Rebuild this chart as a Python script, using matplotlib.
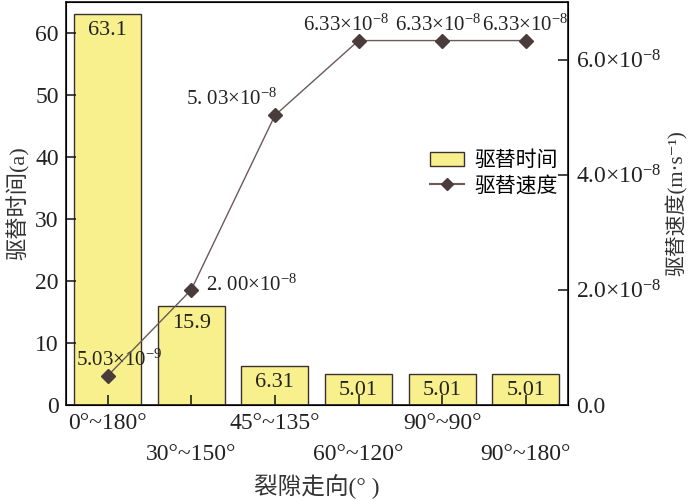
import matplotlib
matplotlib.use("Agg")
import matplotlib.pyplot as plt
from matplotlib.patches import Patch
from matplotlib.lines import Line2D

plt.rcParams['font.family'] = ['Liberation Serif', 'Noto Sans CJK SC', 'DejaVu Serif']
plt.rcParams['mathtext.fontset'] = 'custom'
plt.rcParams['mathtext.rm'] = 'Liberation Serif'
plt.rcParams['mathtext.it'] = 'Liberation Serif:italic'

categories = ['0°~180°', '30°~150°', '45°~135°', '60°~120°', '90°~90°', '90°~180°']
times = [63.1, 15.9, 6.31, 5.01, 5.01, 5.01]
time_labels = ['63.1', '15.9', '6.31', '5.01', '5.01', '5.01']
speeds = [5.03e-9, 2.00e-8, 5.03e-8, 6.33e-8, 6.33e-8, 6.33e-8]
speed_labels = ['5.03×10$^{\\mathregular{-9}}$', '2. 00×10$^{\\mathregular{-8}}$', '5. 03×10$^{\\mathregular{-8}}$',
                '6.33×10$^{\\mathregular{-8}}$', '6.33×10$^{\\mathregular{-8}}$', '6.33×10$^{\\mathregular{-8}}$']
right_ticks = [0, 2e-8, 4e-8, 6e-8]
right_ticklabels = ['0.0', '2.0×10$^{\\mathregular{-8}}$', '4.0×10$^{\\mathregular{-8}}$', '6.0×10$^{\\mathregular{-8}}$']

bar_color = '#F8F08C'
edge = '#3a3030'
line_color = '#6a5a5a'
marker_color = '#4a3c3c'

fig = plt.figure(figsize=(7, 5.01), dpi=100)
ax = fig.add_axes([0.094, 0.192, 0.717, 0.804])
x = list(range(len(categories)))
ax.bar(x, times, width=0.8, color=bar_color, edgecolor=edge, linewidth=1.0, zorder=1)
ax.set_xlim(-0.5, 5.5)
ax.set_ylim(0, 65)
ax.set_yticks([0, 10, 20, 30, 40, 50, 60])
ax.tick_params(axis='y', direction='in', length=7, width=1.2, labelsize=17, pad=5, colors='#222222')
ax.tick_params(axis='x', direction='in', length=7, width=1.2, labelsize=17, colors='#222222')
ax.set_xticks(x)
ax.set_xticklabels(categories)
for i, t in enumerate(ax.xaxis.get_major_ticks()):
    t.set_pad(6 if i % 2 == 0 else 28)
for s in ax.spines.values():
    s.set_linewidth(1.3)
    s.set_color('#2a2222')

for xi, v, lab in zip(x, times, time_labels):
    ax.text(xi, v - 1.2, lab, ha='center', va='top', fontsize=16, color='#222222', zorder=3)

ax.set_ylabel('驱替时间(a)', fontsize=16, labelpad=4, color='#333333')
ax.set_xlabel('裂隙走向(° )', fontsize=17, labelpad=7, color='#333333')

ax2 = ax.twinx()
ax2.plot(x, speeds, color=line_color, linewidth=1.0, marker='D', markersize=7,
         markerfacecolor=marker_color, markeredgecolor=marker_color, zorder=4)
ax2.set_ylim(0, 7e-8)
ax2.set_yticks(right_ticks)
ax2.set_yticklabels(right_ticklabels)
ax2.tick_params(axis='y', direction='in', length=7, width=1.2, labelsize=17, pad=6, colors='#222222')
ax2.set_ylabel('驱替速度(m·s⁻¹)', fontsize=15, labelpad=3, color='#333333')

offsets = [(12, 5, 'center', 'bottom'), (15, 5, 'left', 'center'), (3, 6, 'right', 'bottom'),
           (-12, 5, 'center', 'bottom'), (-4, 5, 'center', 'bottom'), (-1, 5, 'center', 'bottom')]
for xi, v, lab, (dx, dy, ha, va) in zip(x, speeds, speed_labels, offsets):
    ax2.annotate(lab, (xi, v), xytext=(dx, dy), textcoords='offset pixels',
                 ha=ha, va=va, fontsize=15, color='#222222')

handles = [Patch(facecolor=bar_color, edgecolor=edge, linewidth=1.0, label='驱替时间'),
           Line2D([], [], color=line_color, marker='D', markersize=6, markerfacecolor=marker_color,
                  markeredgecolor=marker_color, label='驱替速度')]
ax.legend(handles=handles, loc='upper left', bbox_to_anchor=(0.71, 0.655), frameon=False,
          prop={'family': ['Noto Sans CJK SC'], 'size': 15}, handlelength=1.6, handletextpad=0.5,
          labelspacing=0.15, borderaxespad=0)

fig.savefig('out.png', dpi=100)
